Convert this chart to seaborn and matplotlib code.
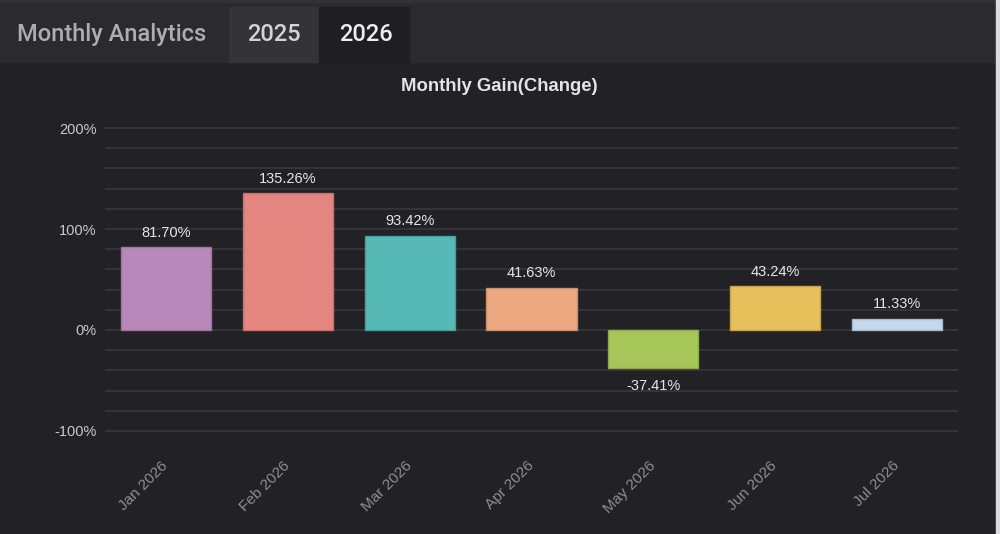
import matplotlib
matplotlib.use('Agg')
import pandas as pd
import seaborn as sns
import matplotlib.pyplot as plt
from matplotlib.patches import Rectangle
from matplotlib.ticker import MultipleLocator, FuncFormatter
from matplotlib.colors import to_rgb
from matplotlib.transforms import ScaledTranslation

# data
months = ['Jan 2026', 'Feb 2026', 'Mar 2026', 'Apr 2026', 'May 2026', 'Jun 2026', 'Jul 2026']
gains = [81.70, 135.26, 93.42, 41.63, -37.41, 43.24, 11.33]
bar_colors = ['#b788b9', '#e5857f', '#57b9b6', '#eca982', '#a7c65a', '#e6c15b', '#c5d9ec']
tabs = ['Monthly Analytics', '2025', '2026']

sns.set_theme(style='dark')
plt.rcParams['font.family'] = ['Liberation Sans', 'DejaVu Sans']

bg = '#222126'
W, H = 1000, 534
fig = plt.figure(figsize=(10, 5.34), dpi=100, facecolor=bg)

# tab strip on top
fig.patches.append(Rectangle((0, 1 - 62 / H), 1, 62 / H, transform=fig.transFigure,
                             color='#2b2a2f', zorder=0))
fig.patches.append(Rectangle((0, 1 - 2 / H), 1, 2 / H, transform=fig.transFigure,
                             color='#323136', zorder=0))
fig.patches.append(Rectangle((229 / W, 1 - 62 / H), 90 / W, 55 / H, transform=fig.transFigure,
                             color='#343338', zorder=1))
fig.patches.append(Rectangle((319 / W, 1 - 62 / H), 90 / W, 55 / H, transform=fig.transFigure,
                             color='#1f1e23', zorder=1))
fig.patches.append(Rectangle((996 / W, 0), 4 / W, 1, transform=fig.transFigure,
                             color='#dcdcdc', zorder=1))
fig.text(17 / W, 1 - 41 / H, tabs[0], family='Roboto', fontweight='medium', fontsize=17,
         color='#adadb2', va='baseline')
fig.text(274 / W, 1 - 41 / H, tabs[1], family='Roboto', fontweight='medium', fontsize=17,
         color='#d4d4d8', va='baseline', ha='center')
fig.text(366 / W, 1 - 41 / H, tabs[2], family='Roboto', fontweight='medium', fontsize=17,
         color='#eeeeee', va='baseline', ha='center')

fig.text(0.499, 1 - 91 / H, 'Monthly Gain(Change)', ha='center', va='baseline',
         fontsize=13.3, fontweight='bold', color='#e4e4e6')

ax = fig.add_axes([105 / W, 1 - 432 / H, 853 / W, 305 / H])
ax.set_facecolor(bg)
df = pd.DataFrame({'month': months, 'gain': gains})
sns.barplot(data=df, x='month', y='gain', hue='month', palette=bar_colors, legend=False,
            saturation=1, width=0.74, ax=ax, linewidth=1)
for p in ax.patches:
    r, g, b = to_rgb(p.get_facecolor()[:3])
    p.set_edgecolor((r * 0.85, g * 0.85, b * 0.85))
    p.set_zorder(3)

ax.set_xlim(-0.5, 6.5)
ax.set_ylim(-101, 201)
ax.yaxis.set_major_locator(MultipleLocator(100))
ax.yaxis.set_minor_locator(MultipleLocator(20))
ax.yaxis.set_major_formatter(FuncFormatter(lambda v, _: f'{v:.0f}%'))
ax.grid(which='both', axis='y', color='#38373c', linewidth=1.2)
ax.grid(axis='x', visible=False)
ax.set_axisbelow(True)
for s in ax.spines.values():
    s.set_visible(False)
ax.tick_params(axis='y', which='both', length=0, pad=6, labelsize=10.5, labelcolor='#c9c9cc')
ax.tick_params(axis='x', length=0, pad=19)
ax.set_xticks(range(len(months)))
ax.set_xticklabels(months, rotation=45, ha='right', va='top', rotation_mode='anchor',
                   color='#8d8d92', fontsize=11)
shift = ScaledTranslation(-5 / 100, 0, fig.dpi_scale_trans)
for lbl in ax.get_xticklabels():
    lbl.set_transform(lbl.get_transform() + shift)
ax.set_xlabel('')
ax.set_ylabel('')

for i, v in enumerate(gains):
    ax.annotate(f'{v:.2f}%', xy=(i, v), xytext=(0, 5.5 if v >= 0 else -8),
                textcoords='offset points', ha='center', va='bottom' if v >= 0 else 'top',
                fontsize=10.5, color='#e6e6e8', zorder=4)

fig.savefig('out.png', dpi=100, facecolor=bg)
